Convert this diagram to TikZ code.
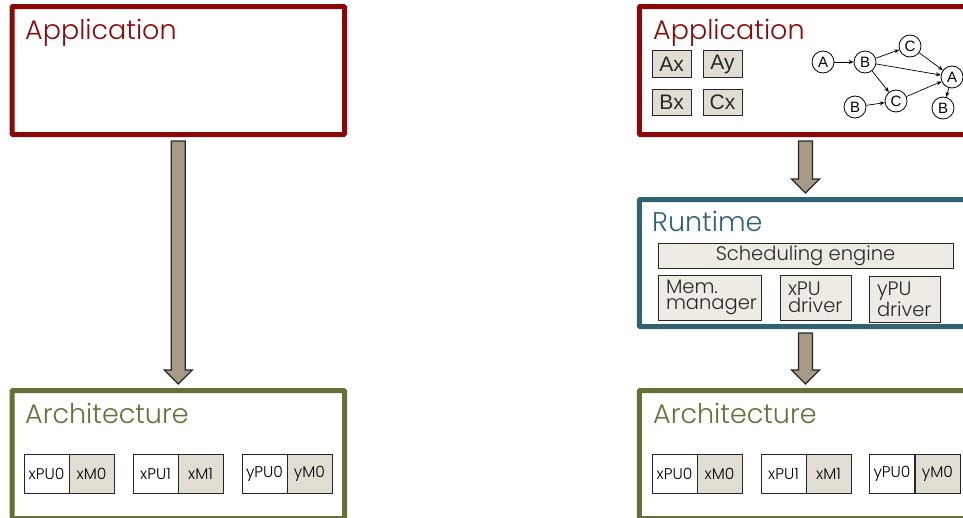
\documentclass[tikz,border=0pt]{standalone}
\usepackage{fontspec}
\setmainfont{Poppins}[UprightFont=* Light]
\newfontfamily\labfont{Liberation Sans}
\usetikzlibrary{calc,arrows.meta}

\definecolor{appred}{RGB}{139,8,8}
\definecolor{rtteal}{RGB}{48,99,114}
\definecolor{archolive}{RGB}{102,112,56}
\definecolor{arrowfill}{RGB}{166,154,134}
\definecolor{chipfill}{RGB}{226,221,211}
\definecolor{modfill}{RGB}{238,235,228}
\definecolor{inkdark}{RGB}{40,40,40}

\tikzset{
  layer/.style={draw, line width=5pt, minimum width=332.5pt, inner sep=0pt, rounded corners=1pt},
  title/.style={anchor=base west, inner sep=0pt, font=\fontsize{27}{30}\selectfont},
  barrow/.style={draw=inkdark, line width=1.1pt, fill=arrowfill, line join=miter},
  chip/.style={draw=inkdark, line width=1pt, fill=chipfill, inner sep=0pt,
    minimum width=39pt, minimum height=26.5pt, text=inkdark,
    font=\labfont\fontsize{21}{21}\selectfont},
  task/.style={circle, draw=black, line width=0.8pt, fill=white, inner sep=0pt,
    minimum size=22pt, font=\labfont\fontsize{15}{15}\selectfont},
  dep/.style={-{Stealth[length=5pt,width=4pt]}, line width=0.7pt, draw=black},
  module/.style={draw=inkdark, line width=1pt, fill=modfill, inner sep=0pt,
    text=inkdark, font=\fontsize{19.5}{16.5}\selectfont},
  twoline/.style={module, align=left, anchor=center, text width=#1},
  pu/.style={draw=black!85, line width=1pt, fill=white, inner sep=0pt,
    minimum width=45pt, minimum height=39pt, text=black,
    font=\fontsize{15.5}{15.5}\selectfont},
  mem/.style={pu, fill=chipfill},
}

% block arrow from the bottom of one layer to the top of the next
\newcommand\layerarrow[2]{%
  \draw[barrow] let \p1=(#1.south), \p2=(#2.north) in
    (\x1-7pt,\y1-4pt) -- (\x1+7pt,\y1-4pt) -- (\x1+7pt,\y2+18pt) --
    (\x1+14pt,\y2+18pt) -- (\x1,\y2+4pt) -- (\x1-14pt,\y2+18pt) --
    (\x1-7pt,\y2+18pt) -- cycle;}

\begin{document}
\begin{tikzpicture}[x=1pt,y=-1pt]
\clip (0,0) rectangle (963,517);
\fill[white] (0,0) rectangle (963,517);

% ---------------- left stack: application directly on architecture
\node[layer, draw=appred, minimum height=128pt] (appL) at (178.25,70.5) {};
\node[title, text=appred] (appLt) at (25,39) {Application};

\node[layer, draw=archolive, minimum height=128pt] (archL) at (178.25,454.5) {};
\node[title, text=archolive] (archLt) at (25,423) {Architecture};

\node[pu]  (xpu0L) at (46.5,473.5)  {xPU0};
\node[mem] (xm0L)  at (91.5,473.5)  {xM0};
\node[pu]  (xpu1L) at (155.5,473.5) {xPU1};
\node[mem] (xm1L)  at (200.5,473.5) {xM1};
\node[pu]  (ypu0L) at (264.5,473.5) {yPU0};
\node[mem] (ym0L)  at (309.5,473.5) {yM0};

\layerarrow{appL}{archL}

% ---------------- right stack: application, runtime, architecture
\node[layer, draw=appred, minimum height=128pt] (appR) at (805.5,70.5) {};
\node[title, text=appred] (appRt) at (653,39) {Application};

\node[chip] (ax) at (671.5,64)   {Ax};
\node[chip] (ay) at (722.5,64)   {Ay};
\node[chip] (bx) at (671.5,102.5) {Bx};
\node[chip] (cx) at (722.5,102.5) {Cx};

% task graph
\node[task] (tA1) at (823,62)  {A};
\node[task] (tB1) at (865,62)  {B};
\node[task] (tC1) at (910,46)  {C};
\node[task] (tA2) at (952,77)  {A};
\node[task] (tB2) at (855,107) {B};
\node[task] (tC2) at (896,101) {C};
\node[task] (tB3) at (943,108) {B};
\draw[dep] (tA1) -- (tB1);
\draw[dep] (tB1) -- (tC1);
\draw[dep] (tB1) -- (tA2);
\draw[dep] (tB1) -- (tC2);
\draw[dep] (tC1) -- (tA2);
\draw[dep] (tB2) -- (tC2);
\draw[dep] (tC2) -- (tA2);
\draw[dep] (tA2) -- (tB3);

\node[layer, draw=rtteal, minimum height=127pt] (rt) at (805.5,263) {};
\node[title, text=rtteal] (rtt) at (652,231) {Runtime};

\node[module, minimum width=295pt, minimum height=25pt] (sched) at (805.5,255.5) {Scheduling engine};
\node[twoline=87pt, minimum width=103pt, minimum height=45pt] (memm) at (709.5,297.5) {Mem.\\manager};
\node[twoline=55pt, minimum width=71pt, minimum height=45pt] (xdrv) at (815.5,297.5) {xPU\\driver};
\node[twoline=55pt, minimum width=71pt, minimum height=46pt] (ydrv) at (904.5,299) {yPU\\driver};

\node[layer, draw=archolive, minimum height=128pt] (archR) at (805.5,454.5) {};
\node[title, text=archolive] (archRt) at (653,423) {Architecture};

\node[pu]  (xpu0R) at (674.5,473.5) {xPU0};
\node[mem] (xm0R)  at (719.5,473.5) {xM0};
\node[pu]  (xpu1R) at (783.5,473.5) {xPU1};
\node[mem] (xm1R)  at (828.5,473.5) {xM1};
\node[pu]  (ypu0R) at (892,473.5)   {yPU0};
\node[mem] (ym0R)  at (937.5,473.5) {yM0};

\layerarrow{appR}{rt}
\layerarrow{rt}{archR}
\end{tikzpicture}
\end{document}
